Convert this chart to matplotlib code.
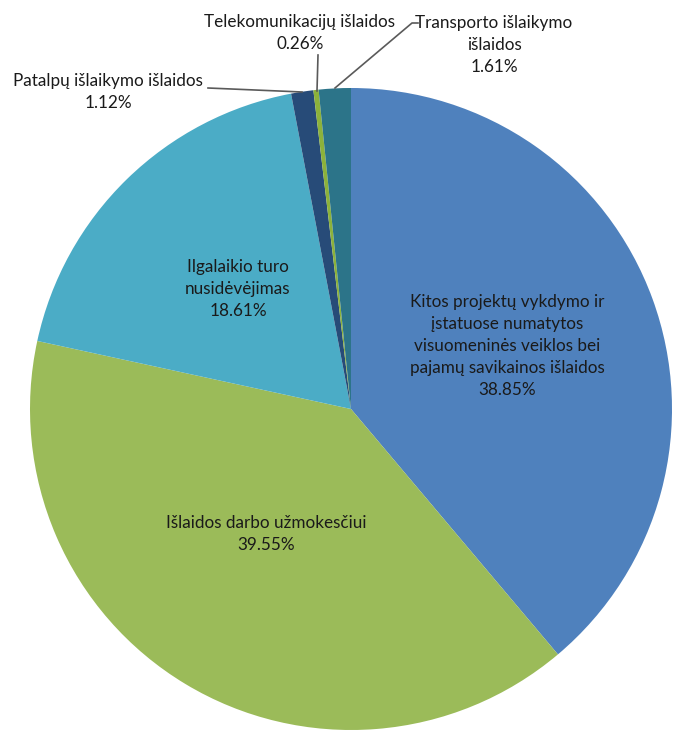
import matplotlib
matplotlib.use("Agg")
import matplotlib.pyplot as plt

categories = [
    "Kitos projektų vykdymo ir\nįstatuose numatytos\nvisuomeninės veiklos bei\npajamų savikainos išlaidos",
    "Išlaidos darbo užmokesčiui",
    "Ilgalaikio turo\nnusidėvėjimas",
    "Patalpų išlaikymo išlaidos",
    "Telekomunikacijų išlaidos",
    "Transporto išlaikymo\nišlaidos",
]
values = [38.85, 39.55, 18.61, 1.12, 0.26, 1.61]
colors = ["#4F81BD", "#9BBB59", "#4BACC6", "#274B78", "#8CB23B", "#2C7489"]

W, H = 675, 734
fig = plt.figure(figsize=(W / 100, H / 100), dpi=100)
ax = fig.add_axes([0, 0, 1, 1])

def Y(y):
    return H - y

cx, cy, r = 351, 409, 321
ax.pie(values, colors=colors, startangle=90, counterclock=False,
       center=(cx, Y(cy)), radius=r, frame=True,
       wedgeprops=dict(linewidth=0, antialiased=True))
ax.set_xlim(0, W)
ax.set_ylim(0, H)
ax.set_aspect("equal")
ax.axis("off")

font = dict(family=["Lato", "DejaVu Sans"], fontsize=12.3, color="#1a1a1a",
            ha="center", va="center", linespacing=1.45)

def lab(i):
    return f"{categories[i]}\n{values[i]:.2f}%"

# inside labels
ax.text(507, Y(346), lab(0), **font)
ax.text(266, Y(534), lab(1), **font)
ax.text(238, Y(289), lab(2), **font)
# outside labels
ax.text(108, Y(92), lab(3), **font)
ax.text(300, Y(33), lab(4), **font)
ax.text(494, Y(45), lab(5), **font)

lc = "#5a5a5a"
ax.plot([208, 302], [Y(88), Y(92)], color=lc, lw=1.2)
ax.plot([318, 317], [Y(55), Y(91)], color=lc, lw=1.2)
ax.plot([418, 412, 335], [Y(23), Y(23), Y(88)], color=lc, lw=1.2)

fig.savefig("out.png", dpi=100)
